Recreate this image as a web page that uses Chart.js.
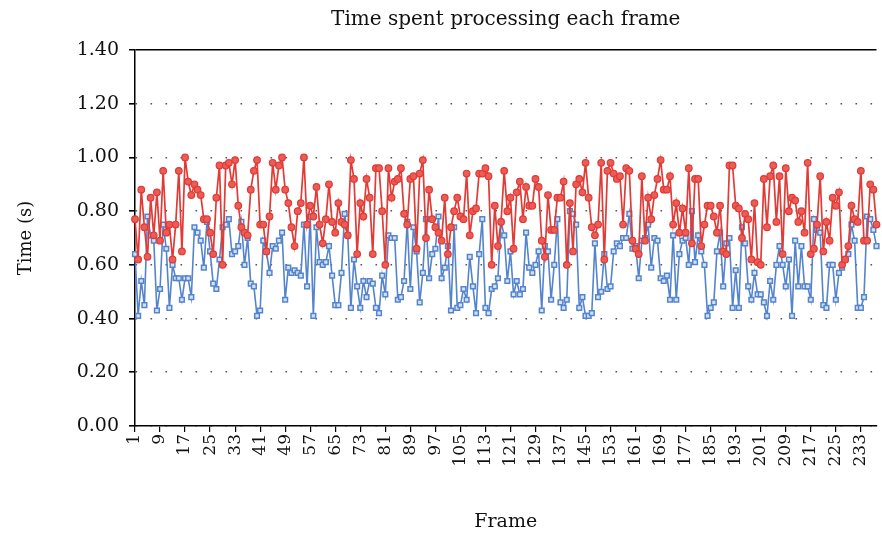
<!DOCTYPE html>
<html lang="en">
<head>
  <meta charset="UTF-8" />
  <title>Time spent processing each frame</title>
  <style>
body {
    margin: 0;
    background: #ffffff;
}
canvas {
    display: block;
}
  </style>
</head>
<body>
  <canvas id="frameChart" width="882" height="535"></canvas>

  <script src="https://cdn.jsdelivr.net/npm/chart.js"></script>
  <script>
    // frame numbers 1..238, a label is shown every 8th frame
    const frameCount = 238;
    const frames = [];
    for (let i = 1; i <= frameCount; i++) frames.push(String(i));
    const labelEvery = 8;

    const yTicks = [0, 0.2, 0.4, 0.6, 0.8, 1.0, 1.2, 1.4];

    // red series (upper)
    const redTimes = [
      0.77,0.62,0.88,0.74,0.63,0.85,0.71,0.87,0.69,0.95,
      0.72,0.75,0.62,0.75,0.95,0.65,1.00,0.91,0.86,0.90,
      0.88,0.86,0.77,0.77,0.72,0.64,0.85,0.97,0.60,0.97,
      0.98,0.90,0.99,0.82,0.74,0.72,0.71,0.88,0.95,0.99,
      0.75,0.75,0.65,0.78,0.98,0.88,0.97,1.00,0.88,0.83,
      0.74,0.67,0.80,0.83,1.00,0.75,0.82,0.78,0.89,0.75,
      0.68,0.77,0.90,0.76,0.72,0.83,0.76,0.75,0.71,0.99,
      0.92,0.64,0.83,0.78,0.92,0.85,0.64,0.96,0.96,0.80,
      0.60,0.96,0.85,0.91,0.92,0.96,0.79,0.75,0.92,0.93,
      0.66,0.94,0.99,0.70,0.88,0.77,0.74,0.72,0.69,0.85,
      0.64,0.74,0.80,0.85,0.78,0.77,0.94,0.71,0.80,0.81,
      0.94,0.94,0.96,0.93,0.60,0.82,0.67,0.76,0.95,0.80,
      0.85,0.66,0.87,0.91,0.77,0.89,0.82,0.82,0.92,0.89,
      0.69,0.63,0.86,0.73,0.73,0.85,0.85,0.91,0.60,0.83,
      0.65,0.90,0.92,0.87,0.98,0.85,0.74,0.71,0.75,0.98,
      0.62,0.95,0.98,0.94,0.92,0.93,0.75,0.96,0.95,0.69,
      0.66,0.64,0.93,0.69,0.85,0.77,0.86,0.92,0.99,0.88,
      0.88,0.93,0.75,0.83,0.72,0.81,0.72,0.96,0.68,0.92,
      0.92,0.67,0.75,0.82,0.82,0.78,0.72,0.82,0.65,0.64,
      0.97,0.97,0.82,0.81,0.70,0.79,0.77,0.62,0.83,0.61,
      0.60,0.92,0.74,0.93,0.97,0.76,0.93,0.64,0.96,0.80,
      0.85,0.84,0.76,0.80,0.72,0.98,0.64,0.66,0.75,0.93,
      0.65,0.76,0.69,0.85,0.82,0.87,0.60,0.62,0.67,0.82,
      0.77,0.76,0.95,0.69,0.69,0.90,0.88,0.75
    ];

    // blue series (lower)
    const blueTimes = [
      0.64,0.41,0.54,0.45,0.78,0.71,0.69,0.43,0.51,0.75,
      0.66,0.44,0.60,0.55,0.55,0.47,0.55,0.55,0.48,0.74,
      0.72,0.69,0.59,0.76,0.65,0.53,0.51,0.62,0.74,0.75,
      0.77,0.64,0.65,0.67,0.76,0.60,0.70,0.53,0.52,0.41,
      0.43,0.69,0.65,0.57,0.67,0.66,0.69,0.72,0.47,0.59,
      0.57,0.58,0.57,0.56,0.75,0.52,0.78,0.41,0.74,0.61,
      0.60,0.61,0.67,0.56,0.45,0.45,0.57,0.79,0.71,0.44,
      0.62,0.52,0.44,0.54,0.48,0.54,0.53,0.44,0.42,0.56,
      0.49,0.71,0.70,0.70,0.47,0.48,0.54,0.76,0.51,0.74,
      0.65,0.46,0.57,0.77,0.55,0.64,0.66,0.78,0.55,0.59,
      0.67,0.43,0.74,0.44,0.45,0.51,0.47,0.63,0.52,0.42,
      0.64,0.77,0.44,0.42,0.51,0.52,0.55,0.76,0.71,0.54,
      0.65,0.49,0.54,0.49,0.51,0.72,0.59,0.57,0.60,0.65,
      0.43,0.67,0.65,0.47,0.60,0.77,0.46,0.44,0.47,0.80,
      0.79,0.75,0.44,0.48,0.41,0.41,0.42,0.68,0.48,0.50,
      0.64,0.51,0.52,0.65,0.68,0.67,0.70,0.70,0.79,0.66,
      0.67,0.55,0.69,0.70,0.75,0.59,0.70,0.69,0.55,0.54,
      0.56,0.47,0.71,0.47,0.64,0.69,0.70,0.60,0.80,0.61,
      0.71,0.65,0.60,0.41,0.44,0.46,0.65,0.72,0.52,0.68,
      0.70,0.44,0.58,0.44,0.74,0.68,0.52,0.47,0.57,0.49,
      0.49,0.46,0.41,0.54,0.47,0.60,0.67,0.60,0.52,0.62,
      0.41,0.69,0.52,0.67,0.52,0.52,0.47,0.77,0.73,0.72,
      0.45,0.44,0.60,0.60,0.47,0.57,0.59,0.62,0.64,0.75,
      0.69,0.44,0.44,0.48,0.78,0.77,0.73,0.67
    ];

    const serif = "'DejaVu Serif', 'Liberation Serif', serif";
    const red = 'rgb(226, 58, 52)';
    const blue = 'rgb(84, 132, 205)';

    const ctx = document.getElementById('frameChart').getContext('2d');

    new Chart(ctx, {
      type: 'line',
      data: {
        labels: frames,
        datasets: [
          {
            label: 'red',
            data: redTimes,
            borderColor: red,
            backgroundColor: red,
            borderWidth: 1.7,
            pointStyle: 'circle',
            pointRadius: 3.3,
            pointBorderWidth: 1.2,
            pointBackgroundColor: 'rgb(234, 92, 86)',
            pointBorderColor: red,
            tension: 0
          },
          {
            label: 'blue',
            data: blueTimes,
            borderColor: blue,
            backgroundColor: blue,
            borderWidth: 1.6,
            pointStyle: 'rect',
            pointRadius: 3.3,
            pointBorderWidth: 1.5,
            pointBackgroundColor: 'rgb(212, 226, 245)',
            pointBorderColor: blue,
            tension: 0
          }
        ]
      },
      options: {
        responsive: false,
        animation: false,
        layout: { padding: 0 },
        plugins: {
          legend: { display: false },
          tooltip: { enabled: false },
          title: {
            display: true,
            fullSize: false,
            text: 'Time spent processing each frame',
            color: '#111',
            font: { family: serif, size: 20, weight: 'normal' },
            padding: { top: 8, bottom: 18 }
          }
        },
        scales: {
          x: {
            type: 'category',
            offset: false,
            afterFit: s => {
              s.height = 109;
              s.paddingLeft = 0;
              s.paddingRight = 0;
            },
            grid: {
              offset: false,
              drawOnChartArea: false,
              drawTicks: true,
              tickLength: 6,
              color: c => (c.index % labelEvery === 0 ? '#000' : 'rgba(0,0,0,0)'),
              lineWidth: 1.2
            },
            border: { display: true, color: '#000', width: 1.5 },
            ticks: {
              autoSkip: false,
              maxRotation: 90,
              minRotation: 90,
              padding: 2,
              color: '#111',
              font: { family: serif, size: 17 },
              callback: function (value, index) {
                return index % labelEvery === 0 ? this.getLabelForValue(value) : '';
              }
            },
            title: {
              display: true,
              text: 'Frame',
              color: '#111',
              font: { family: serif, size: 19 },
              padding: { top: 0, bottom: 2 }
            }
          },
          y: {
            min: 0,
            max: 1.4,
            afterFit: s => {
              s.width = 135;
              s.paddingTop = 0;
              s.paddingBottom = 0;
            },
            afterBuildTicks: s => { s.ticks = yTicks.map(v => ({ value: v })); },
            grid: {
              drawTicks: true,
              tickLength: 6,
              tickColor: '#000',
              color: c => (c.index === yTicks.length - 1 ? '#000' : '#555'),
              lineWidth: c => (c.index === yTicks.length - 1 ? 1.5 : 1.6)
            },
            border: {
              display: true,
              color: '#000',
              width: 1.5,
              dash: c => (c.index === yTicks.length - 1 ? [] : [1.6, 13.4])
            },
            ticks: {
              padding: 10,
              color: '#111',
              font: { family: serif, size: 19 },
              callback: v => v.toFixed(2)
            },
            title: {
              display: true,
              text: 'Time (s)',
              color: '#111',
              font: { family: serif, size: 18 },
              padding: { top: 16, bottom: 0 }
            }
          }
        }
      }
    });
  </script>
</body>
</html>
